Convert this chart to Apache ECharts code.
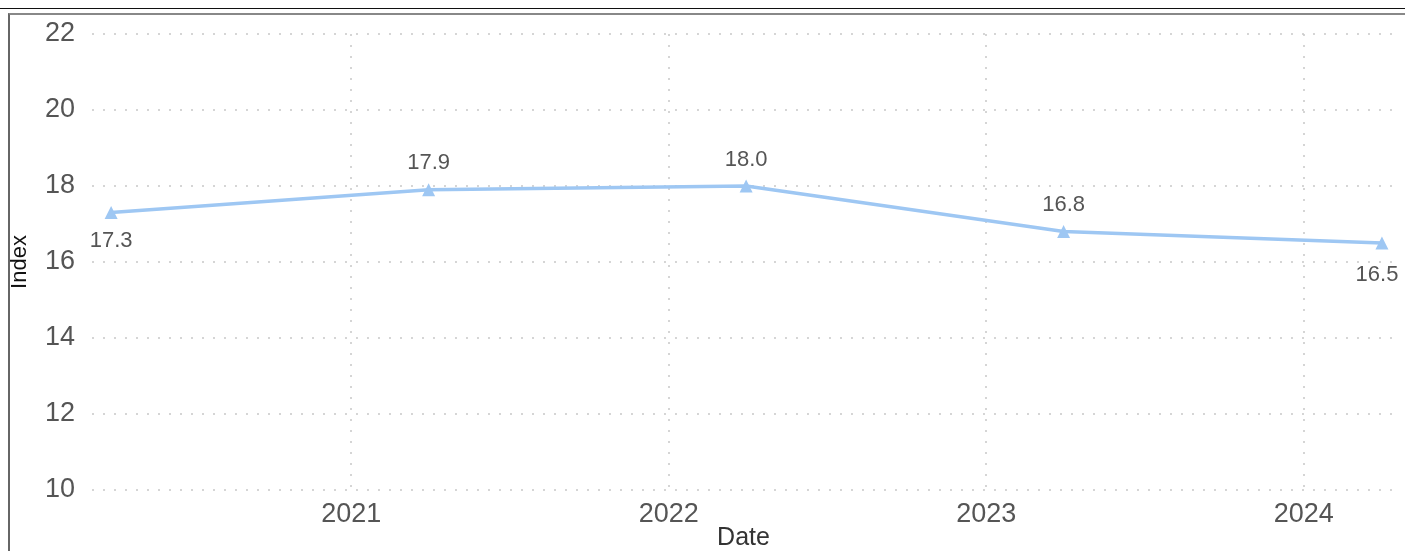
<!DOCTYPE html>
<html>
<head>
<meta charset="utf-8">
<script src="https://cdn.jsdelivr.net/npm/echarts@6/dist/echarts.min.js"></script>
<style>
html, body { margin: 0; padding: 0; background: #fff; }
#main { position: absolute; left: 0; top: 0; width: 1405px; height: 551px; }
#topline { position: absolute; left: 0; top: 8px; width: 1405px; height: 0; border-top: 1px solid #111; }
#frame { position: absolute; left: 8px; top: 13px; width: 1400px; height: 545px; border-left: 2px solid #666; border-top: 2px solid #888; pointer-events: none; }
</style>
</head>
<body>
<div id="main"></div>
<div id="topline"></div>
<div id="frame"></div>
<script>
// data
var dates = ['2020-03-31', '2021-03-31', '2022-03-31', '2023-03-31', '2024-03-31'];
var values = [17.3, 17.9, 18.0, 16.8, 16.5];
var labelPos = ['bottom', 'top', 'top', 'top', 'bottom'];

var myChart = echarts.init(document.getElementById('main'));

var seriesData = dates.map(function (d, i) {
    var lbl = { position: labelPos[i], distance: labelPos[i] == 'top' ? 9 : 11 };
    if (i == dates.length - 1) lbl.offset = [-5, 3]; // kept inside the plot, like the original
    return { value: [d, values[i]], label: lbl };
});

var dotted = { color: '#c8c8c8', width: 1.5, type: [2, 9] };
var font = 'Arial, Liberation Sans';

var option = {
    animation: false,
    grid: { left: 92, right: 10, top: 34, bottom: 61, outerBoundsMode: 'none' },
    xAxis: {
        type: 'time',
        name: 'Date',
        nameLocation: 'middle',
        nameGap: 48,
        nameMoveOverlap: false,
        nameTextStyle: { fontSize: 25, color: '#333', fontFamily: font, verticalAlign: 'middle' },
        min: '2020-03-09',
        max: '2024-04-15',
        minInterval: 365 * 24 * 3600 * 1000,
        splitNumber: 4,
        axisLine: { show: false },
        axisTick: { show: false },
        axisLabel: {
            formatter: '{yyyy}',
            fontSize: 27,
            color: '#555',
            margin: 11,
            fontFamily: font
        },
        splitLine: { show: true, showMinLine: false, showMaxLine: false, lineStyle: dotted }
    },
    yAxis: {
        type: 'value',
        name: 'Index',
        nameLocation: 'middle',
        nameGap: 72,
        nameMoveOverlap: false,
        nameTextStyle: { fontSize: 22, color: '#111', fontFamily: font, verticalAlign: 'middle' },
        min: 10,
        max: 22,
        interval: 2,
        axisLine: { show: false },
        axisTick: { show: false },
        axisLabel: {
            fontSize: 27,
            color: '#555',
            margin: 17,
            fontFamily: font,
            verticalAlign: 'middle',
            padding: [4, 0, 0, 0]
        },
        splitLine: { show: true, lineStyle: dotted }
    },
    series: [{
        type: 'line',
        data: seriesData,
        symbol: 'triangle',
        symbolSize: 13,
        lineStyle: { color: '#9ec7f3', width: 3.5 },
        itemStyle: { color: '#9ec7f3' },
        label: {
            show: true,
            fontSize: 22,
            color: '#555',
            fontFamily: font,
            formatter: function (p) { return p.value[1].toFixed(1); }
        }
    }]
};

myChart.setOption(option);
</script>
</body>
</html>
